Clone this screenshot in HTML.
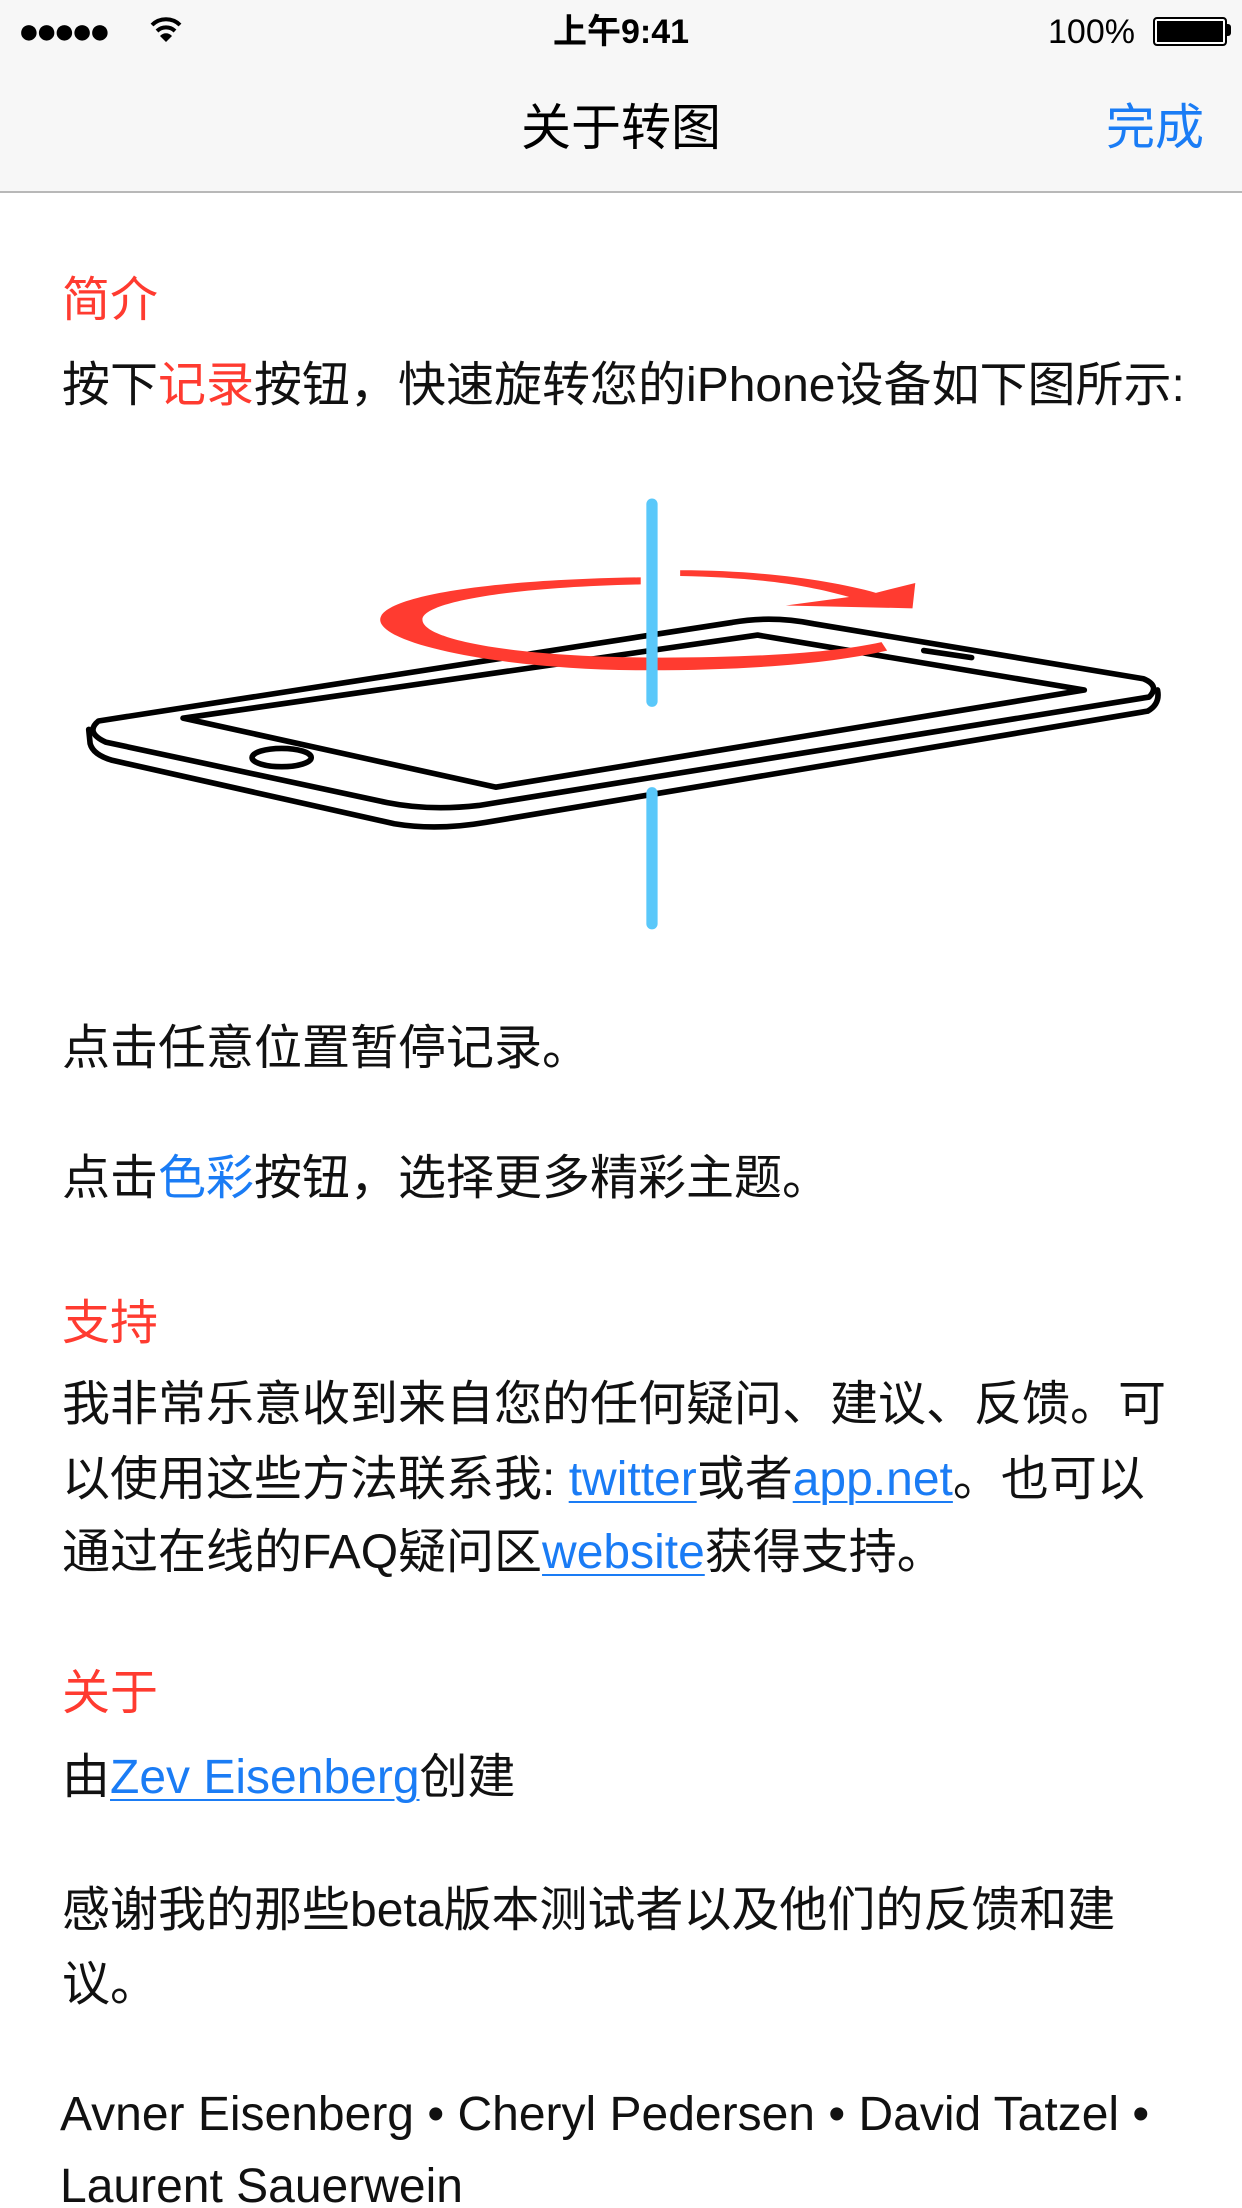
<!DOCTYPE html>
<html><head><meta charset="utf-8"><style>
html,body{margin:0;padding:0;width:1242px;height:2208px;background:#fff;overflow:hidden;position:relative;font-family:"Liberation Sans","Noto Sans CJK SC",sans-serif;}
.t{position:absolute;left:62px;height:64px;line-height:64px;font-size:48px;color:#111;white-space:nowrap;}
.r{color:#ff3b30}.b{color:#1a7cf5}.u{color:#1a7cf5;text-decoration:underline;text-decoration-thickness:2px;text-underline-offset:6px}
#nav{position:absolute;left:0;top:0;width:1242px;height:191px;background:#f7f7f7;border-bottom:2px solid #b8b8b8;}
</style></head><body>
<div id="nav">
 <div style="position:absolute;left:18px;top:11px;font-size:36px;letter-spacing:-4px;line-height:40px">●●●●●</div>
 <svg style="position:absolute;left:148px;top:14px" width="36" height="32" viewBox="0 0 36 32"><path d="M4 11 A20 20 0 0 1 32 11" stroke="#000" stroke-width="4" fill="none"/><path d="M9 17 A13 13 0 0 1 27 17" stroke="#000" stroke-width="4" fill="none"/><path d="M18 28 L12 22 A8 8 0 0 1 24 22 Z" fill="#000"/></svg>
 <div style="position:absolute;left:0;width:1242px;top:10px;text-align:center;font-size:34px;font-weight:bold;line-height:44px">上午9:41</div>
 <div style="position:absolute;left:1048px;top:10px;font-size:34px;line-height:44px">100%</div>
 <div style="position:absolute;left:1153px;top:17px;width:70px;height:25px;border:2px solid #000;border-radius:4px;background:#000;box-shadow:inset 0 0 0 2px #fff"></div>
 <div style="position:absolute;left:1227px;top:24px;width:4px;height:12px;background:#000;border-radius:0 3px 3px 0"></div>
 <div style="position:absolute;left:0;width:1242px;top:96px;text-align:center;font-size:50px;line-height:64px;color:#000">关于转图</div>
 <div style="position:absolute;left:1106px;top:96px;font-size:49px;line-height:64px;color:#1a7cf5">完成</div>
</div>

<div class="t r" style="top:269px">简介</div>
<div class="t" style="top:354px">按下<span class="r">记录</span>按钮，快速旋转您的iPhone设备如下图所示:</div>

<svg style="position:absolute;left:0;top:0" width="1242" height="2208" viewBox="0 0 882 1568">
 <g fill="none" stroke="#000" stroke-width="4" stroke-linejoin="round" stroke-linecap="round">
  <path d="M70 512 L520 442 Q548 437 578 443 L812 482 Q824 487 816 495 L340 572 Q305 576 275 570 L75 527 Q60 520 70 512 Z" fill="#fff"/>
  <path d="M63 518 L64 528 Q66 536 80 540 L280 585 Q310 590 345 584 L815 505 Q824 500 822 490"/>
  <path d="M130 510 L538 451 L770 490 L352 559 Z"/>
  <ellipse cx="200" cy="538" rx="21" ry="6.5"/>
  <path d="M656 462 L690 467"/>
 </g>
 <path d="M455 410 C330 412 270 426 270 440 C270 458 360 476 460 476 C540 476 595 470 630 462 L626 456 C590 464 530 467 470 467 C370 467 300 455 300 440 C300 428 360 417 455 415 Z" fill="#ff3b30"/>
 <path d="M483 409 C535 410 572 415 603 424 L558 430 L648 432 L650 414 L622 421 C590 412 540 405 483 405 Z" fill="#ff3b30"/>
 <path d="M463 358 L463 498" stroke="#5ac8fa" stroke-width="8" stroke-linecap="round"/>
 <path d="M463 563 L463 656" stroke="#5ac8fa" stroke-width="8" stroke-linecap="round"/>
</svg>

<div class="t" style="top:1017px">点击任意位置暂停记录。</div>
<div class="t" style="top:1147px">点击<span class="b">色彩</span>按钮，选择更多精彩主题。</div>
<div class="t r" style="top:1292px">支持</div>
<div class="t" style="top:1373px">我非常乐意收到来自您的任何疑问、建议、反馈。可</div>
<div class="t" style="top:1448px">以使用这些方法联系我: <span class="u">twitter</span>或者<span class="u">app.net</span>。也可以</div>
<div class="t" style="top:1521px">通过在线的FAQ疑问区<span class="u">website</span>获得支持。</div>
<div class="t r" style="top:1662px">关于</div>
<div class="t" style="top:1746px">由<span class="u">Zev Eisenberg</span>创建</div>
<div class="t" style="top:1879px">感谢我的那些beta版本测试者以及他们的反馈和建</div>
<div class="t" style="top:1953px">议。</div>
<div class="t" style="top:2083px;left:60px">Avner Eisenberg • Cheryl Pedersen • David Tatzel •</div>
<div class="t" style="top:2155px;left:60px">Laurent Sauerwein</div>
</body></html>
